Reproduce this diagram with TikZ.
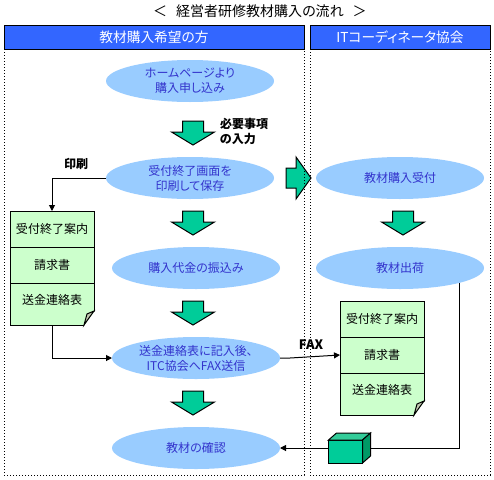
\documentclass[tikz,border=0pt]{standalone}
\usepackage{fontspec}
\setmainfont[RawFeature={+palt}]{Noto Sans CJK JP}
\usepackage{tikz}
\usetikzlibrary{
  shapes.geometric,
  arrows.meta,
  positioning,
  calc
}
\definecolor{HeadBlue}{HTML}{3366FF}
\definecolor{FlowBlue}{HTML}{99CCFF}
\definecolor{FlowText}{HTML}{3333CC}
\definecolor{DocGreen}{HTML}{CCFFCC}
\definecolor{BlockGreen}{HTML}{00CC99}
\definecolor{BoxTop}{HTML}{33CC99}
\definecolor{BoxSide}{HTML}{009966}
\definecolor{FoldGrey}{HTML}{C0C8B0}
\tikzset{
  % Column heading
  head/.style={
    rectangle, draw=black, fill=HeadBlue, line width=1pt,
    minimum width=#1, minimum height=24pt, inner sep=0pt, outer sep=0pt,
    text=white, font=\fontsize{13.7}{15}\selectfont
  },
  % Dotted column outline
  lane/.style={
    rectangle, draw=black, line width=1pt, dash pattern=on 1pt off 2pt,
    minimum width=#1, minimum height=426pt, inner sep=0pt, outer sep=0pt
  },
  % Step ellipse
  flow/.style={
    ellipse, fill=FlowBlue, text=FlowText,
    minimum width=168pt, minimum height=42pt, inner sep=0pt, outer sep=0pt,
    align=center, font=\fontsize{12}{15}\selectfont
  },
  % Slot that a block arrow is drawn in
  blockslot/.style={
    rectangle, minimum width=43pt, minimum height=24pt, inner sep=0pt, outer sep=0pt
  },
  blockslotside/.style={
    rectangle, minimum width=25pt, minimum height=42pt, inner sep=0pt, outer sep=0pt
  },
  % Block arrow outline
  block/.style={draw=black, fill=BlockGreen, line width=1pt},
  % Document slip
  slip/.style={
    rectangle, draw=black, fill=DocGreen, line width=1pt,
    minimum width=84pt, minimum height=36pt, inner sep=0pt, outer sep=0pt,
    font=\fontsize{12}{15}\selectfont
  },
  slipend/.style={slip, minimum height=42pt, text depth=9pt},
  % Parcel front
  parcelbox/.style={
    rectangle, draw=black, fill=BlockGreen, line width=1pt,
    minimum width=34pt, minimum height=23pt, inner sep=0pt, outer sep=0pt
  },
  % Arrow
  arr/.style={-{Triangle[length=6pt,width=6pt]}, line width=1pt, color=black},
  % Edge label
  lbl/.style={font=\fontsize{12}{15}\selectfont\bfseries, color=black, align=left}
}

\begin{document}
\begin{tikzpicture}[x=1pt,y=-1pt]
  \useasboundingbox[fill=white] (0,0) rectangle (494,479);

  \node[font=\fontsize{14}{15}\selectfont] (title) at (260,11) {＜\hspace{9pt}経営者研修教材購入の流れ\hspace{9pt}＞};

  \node[blockslotside] (transit) at (298.5,178) {};
  \filldraw[block] ($(transit.west)+(0,-10)$) -- ++(10,0) -- (transit.north west -| {$(transit.west)+(10,0)$}) -- (transit.east)
    -- (transit.south west -| {$(transit.west)+(10,0)$}) -- ($(transit.west)+(10,10)$) -- ++(-10,0) -- cycle;

  \node[head=300pt] (leftHead) at (154,37) {教材購入希望の方};
  \node[head=180pt, right=6pt of leftHead] (rightHead) {ITコーディネータ協会};
  \node[lane=300pt, below=0pt of leftHead]  (leftLane)  {};
  \node[lane=180pt, below=0pt of rightHead] (rightLane) {};

  \node[flow] (apply) at (190,81) {ホームページより\\購入申し込み};
  \node[blockslot, below=19pt of apply, xshift=3pt] (downA) {};
  \node[flow, below=12pt of downA, xshift=-3pt] (save) {受付終了画面を\\印刷して保存};
  \node[blockslot, below=12pt of save, xshift=3pt] (downB) {};
  \node[flow, below=12pt of downB, xshift=3pt] (pay) {購入代金の振込み};
  \node[blockslot, below=12pt of pay, xshift=-3pt] (downC) {};
  \node[flow, below=12pt of downC, xshift=3pt] (fax) {送金連絡表に記入後、\\ITC協会へFAX送信};
  \node[blockslot, below=12pt of fax, xshift=-3pt] (downD) {};
  \node[flow, below=12pt of downD, xshift=3pt] (check) {教材の確認};

  \node[flow] (accept) at (400,178) {教材購入受付};
  \node[blockslot, below=12pt of accept, xshift=3pt] (downE) {};
  \node[flow, below=12pt of downE, xshift=-3pt] (ship) {教材出荷};

  \foreach \d in {downA,downB,downC,downD,downE} {
    \filldraw[block] ($(\d.north)+(-10.5,0)$) -- ++(21,0) -- ++(0,11) -- ++(11,0) -- (\d.south) -- ++(-21.5,-13) -- ++(11,0) -- cycle;
  }

  \node[slip] (slipA) at (52,229) {受付終了案内};
  \node[slip, below=0pt of slipA] (slipB) {請求書};
  \node[slipend, below=0pt of slipB] (slipC) {送金連絡表};

  \node[slip] (slipD) at (382,319) {受付終了案内};
  \node[slip, below=0pt of slipD] (slipE) {請求書};
  \node[slipend, below=0pt of slipE] (slipF) {送金連絡表};

  \foreach \s in {slipC,slipF} {
    \fill[white] ($(\s.south east)+(-10,1)$) -- ($(\s.south east)+(1,1)$) -- ($(\s.south east)+(1,-14)$) -- cycle;
    \filldraw[fill=FoldGrey, draw=black, line width=1pt] ($(\s.south east)+(0,-14)$) -- ($(\s.south east)+(-10,0)$) -- ($(\s.south east)+(-7,-11)$) -- cycle;
  }

  \node[parcelbox] (parcel) at (345.5,451.5) {};

  \node[lbl] (noteA) at (244,131) {必要事項\\の入力};
  \node[lbl] (noteB) at (76,164) {印刷};
  \node[lbl, font=\fontsize{13}{15}\selectfont\bfseries] (noteC) at (311,345) {FAX};

  \draw[arr] (save.west) -| (slipA.north);
  \draw[arr] (slipC.south) |- (fax.west);
  \draw[arr] (fax.east) -- ++(10,0) -- (slipE.west);
  \draw[line width=1pt] (ship.-14) |- (parcel.east |- check.east);
  \draw[arr] (parcel.west |- check.east) -- (check.east);

  \filldraw[fill=BoxTop, draw=black, line width=1pt] (parcel.north west) -- ++(8,-7) -- ++(34,0) -- (parcel.north east) -- cycle;
  \filldraw[fill=BoxSide, draw=black, line width=1pt] (parcel.north east) -- ++(8,-7) -- ++(0,23) -- (parcel.south east) -- cycle;
\end{tikzpicture}
\end{document}
